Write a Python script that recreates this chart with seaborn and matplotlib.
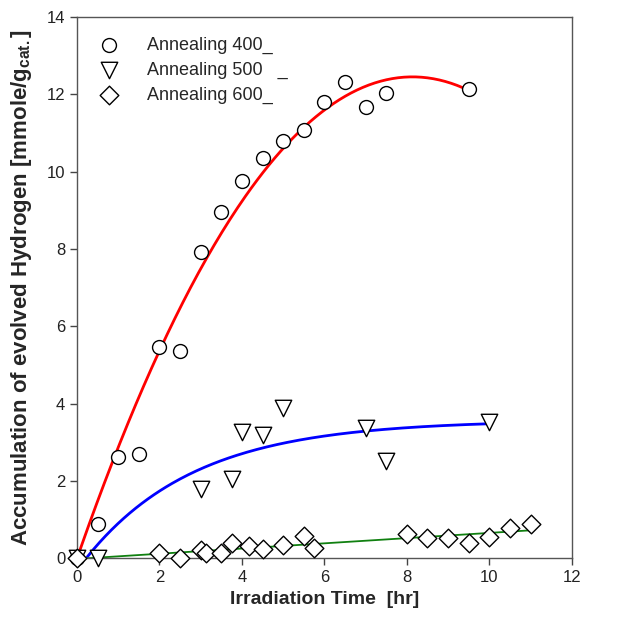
import numpy as np
import pandas as pd
import matplotlib
matplotlib.use("Agg")
import matplotlib.pyplot as plt
import seaborn as sns

# ---- data ----
x400 = [0, 0.5, 1.0, 1.5, 2.0, 2.5, 3.0, 3.5, 4.0, 4.5, 5.0, 5.5, 6.0, 6.5, 7.0, 7.5, 9.5]
y400 = [0, 0.90, 2.61, 2.70, 5.47, 5.36, 7.93, 8.96, 9.76, 10.35, 10.79, 11.08, 11.81, 12.32, 11.67, 12.04, 12.13]

x500 = [0, 0.5, 3.0, 3.75, 4.0, 4.5, 5.0, 7.0, 7.5, 10.0]
y500 = [0, 0.0, 1.79, 2.05, 3.27, 3.19, 3.90, 3.38, 2.52, 3.52]

x600 = [0, 2.0, 2.5, 3.0, 3.14, 3.5, 3.75, 4.16, 4.5, 5.0, 5.5, 5.76, 8.0, 8.5, 9.0, 9.5, 10.0, 10.5, 11.0]
y600 = [0, 0.15, 0.0, 0.21, 0.13, 0.15, 0.39, 0.32, 0.25, 0.34, 0.58, 0.26, 0.62, 0.53, 0.52, 0.40, 0.55, 0.78, 0.88]

labels = ["Annealing 400_", "Annealing 500   _", "Annealing 600_"]
x_ticks = [0, 2, 4, 6, 8, 10, 12]
y_ticks = [0, 2, 4, 6, 8, 10, 12, 14]

# ---- style ----
sns.set_theme(style="ticks")
plt.rcParams["font.family"] = ["Liberation Sans", "DejaVu Sans"]
plt.rcParams["mathtext.fontset"] = "custom"
plt.rcParams["mathtext.rm"] = "Liberation Sans:bold"
plt.rcParams["mathtext.it"] = "Liberation Sans:bold"
plt.rcParams["mathtext.bf"] = "Liberation Sans:bold"

fig = plt.figure(figsize=(6.33, 6.19), dpi=100)
ax = fig.add_axes([0.1217, 0.098, 0.7815, 0.8745])

# ---- fitted curves (least squares on the data) ----
# red: quadratic through the origin
xa = np.array(x400); ya = np.array(y400)
A = np.column_stack([xa, xa ** 2])
(b1, b2), *_ = np.linalg.lstsq(A, ya, rcond=None)
xr = np.linspace(0.05, max(x400), 200)
df_r = pd.DataFrame({"x": xr, "y": b1 * xr + b2 * xr ** 2})

# green: linear
c1 = np.polyfit(x600, y600, 1)
xg = np.linspace(0.25, max(x600), 50)
df_g = pd.DataFrame({"x": xg, "y": np.polyval(c1, xg)})

# blue: exponential rise to max a*(1-exp(-k(x-x0))), grid search
xb_arr = np.array(x500); yb_arr = np.array(y500)
best = None
for k in np.linspace(0.1, 1.5, 281):
    for x0 in np.linspace(0.0, 0.5, 26):
        f = 1 - np.exp(-k * (xb_arr - x0))
        a = np.dot(f, yb_arr) / np.dot(f, f)
        err = np.sum((a * f - yb_arr) ** 2)
        if best is None or err < best[0]:
            best = (err, a, k, x0)
_, a_b, k_b, x0_b = best
xb = np.linspace(max(x0_b, 0.25), max(x500), 200)
df_b = pd.DataFrame({"x": xb, "y": a_b * (1 - np.exp(-k_b * (xb - x0_b)))})

sns.lineplot(data=df_r, x="x", y="y", ax=ax, color="#ff0000", lw=2.0, zorder=2)
sns.lineplot(data=df_b, x="x", y="y", ax=ax, color="#0000ff", lw=2.0, zorder=2)
sns.lineplot(data=df_g, x="x", y="y", ax=ax, color="#108010", lw=1.3, zorder=2)

# ---- markers ----
sns.scatterplot(x=x400, y=y400, ax=ax, marker="o", s=100, facecolor="white",
                edgecolor="black", linewidth=1.0, zorder=3, label=labels[0], clip_on=False)
sns.scatterplot(x=x500, y=y500, ax=ax, marker="v", s=140, facecolor="white",
                edgecolor="black", linewidth=1.0, zorder=3, label=labels[1], clip_on=False)
sns.scatterplot(x=x600, y=y600, ax=ax, marker="D", s=90, facecolor="white",
                edgecolor="black", linewidth=1.0, zorder=4, label=labels[2], clip_on=False)

ax.set_xlim(0, 12)
ax.set_ylim(0, 14)
ax.set_xticks(x_ticks)
ax.set_yticks(y_ticks)
ax.tick_params(axis="both", labelsize=12, length=5, width=1, color="#444444",
               labelcolor="#222222", direction="out")
for s in ["left", "bottom", "top", "right"]:
    ax.spines[s].set_color("#555555")
    ax.spines[s].set_linewidth(1.0)

ax.set_xlabel("Irradiation Time  [hr]", fontsize=14, fontweight="bold", labelpad=4)
ax.set_ylabel("Accumulation of evolved Hydrogen [mmole/g$_{\\mathbf{cat.}}$]",
              fontsize=16, fontweight="bold", labelpad=9)

leg = ax.legend(loc="upper left", bbox_to_anchor=(0.02, 0.983), frameon=False,
                fontsize=13, handletextpad=1.5, labelspacing=0.42,
                handlelength=1.2, borderaxespad=0.2, markerscale=1.0)

fig.savefig("out.png", dpi=100)
